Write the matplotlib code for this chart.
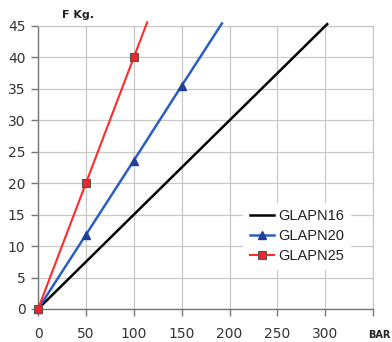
import matplotlib
matplotlib.use("Agg")
import matplotlib.pyplot as plt

# Data
series_names = ["GLAPN16", "GLAPN20", "GLAPN25"]
x16 = [0, 302]
y16 = [0, 45.3]
x20 = [0, 50, 100, 150, 192]
y20 = [0, 11.8, 23.6, 35.5, 45.4]
x25 = [0, 50, 100, 114]
y25 = [0, 20, 40, 45.6]
xticks = [0, 50, 100, 150, 200, 250, 300, 350]
xticklabels = ["0", "50", "100", "150", "200", "250", "300", ""]
yticks = [0, 5, 10, 15, 20, 25, 30, 35, 40, 45]

fig = plt.figure(figsize=(3.92, 3.42), dpi=100)
ax = fig.add_axes([0.097, 0.0965, 0.855, 0.8275])

ax.plot(x16, y16, color="#000000", lw=1.8, label=series_names[0], clip_on=False, zorder=3)
ax.plot(x20, y20, color="#2b5fc4", lw=1.8, marker="^", markevery=[0, 1, 2, 3],
        ms=6, mfc="#1f3f99", mec="#1f3f99", label=series_names[1], clip_on=False, zorder=4)
ax.plot(x25, y25, color="#ff2a2a", lw=1.5, marker="s", markevery=[0, 1, 2],
        ms=6, mfc="#e8282a", mec="#555555", mew=0.8, label=series_names[2], clip_on=False, zorder=5)

ax.set_xlim(0, 350)
ax.set_ylim(0, 45)
ax.set_xticks(xticks)
ax.set_xticklabels(xticklabels)
ax.set_yticks(yticks)
ax.grid(True, color="#c8c8c8", lw=0.9)
ax.set_axisbelow(True)
for s in ["top", "right"]:
    ax.spines[s].set_color("#c8c8c8")
    ax.spines[s].set_linewidth(0.9)
for s in ["left", "bottom"]:
    ax.spines[s].set_color("#777777")
    ax.spines[s].set_linewidth(1.0)
ax.tick_params(axis="both", colors="#777777", length=5, width=1.0,
               labelcolor="#333333", labelsize=10)
ax.tick_params(axis="x", pad=8)
ax.tick_params(axis="y", pad=4)

leg = ax.legend(loc="center left", bbox_to_anchor=(0.59, 0.257), frameon=True,
                fancybox=False, edgecolor="none", facecolor="white", framealpha=1,
                prop={"family": "Liberation Sans", "size": 10.5},
                handlelength=1.7, handletextpad=0.25, labelspacing=0.42,
                borderpad=0.45, markerscale=0.85)
for t in leg.get_texts():
    t.set_color("#222222")

fig.text(0.158, 0.957, "F Kg.", fontsize=8, fontweight="bold", color="#222222",
         ha="left", va="center")
fig.text(0.940, 0.006, "BAR", fontsize=7, fontweight="bold", color="#222222",
         ha="left", va="bottom")

fig.savefig("out.png", dpi=100)
